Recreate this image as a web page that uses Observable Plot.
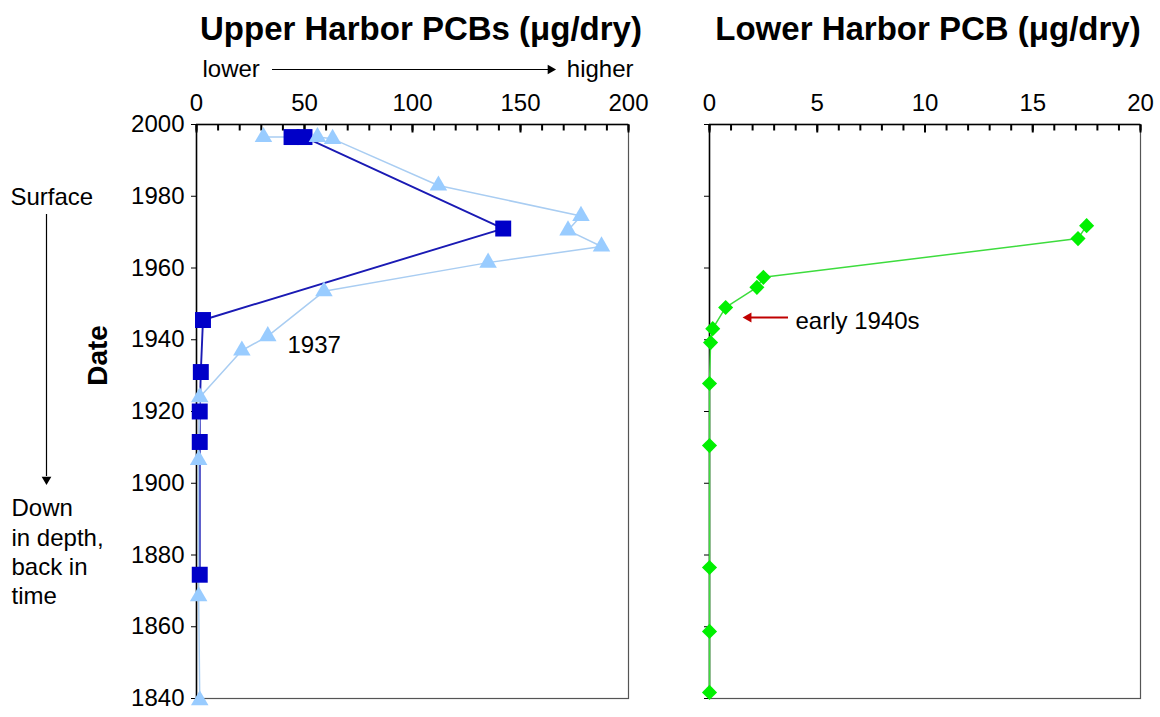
<!DOCTYPE html>
<html><head><meta charset="utf-8">
<script src="https://cdn.jsdelivr.net/npm/d3@7"></script>
<script src="https://cdn.jsdelivr.net/npm/@observablehq/plot@0.6"></script>
<style>
body{margin:0;background:#fff;font-family:"Liberation Sans",Arial,sans-serif;}
#wrap{position:relative;width:1160px;height:717px;overflow:hidden;background:#fff;}
.title{position:absolute;top:12px;font-weight:bold;font-size:33px;line-height:33px;text-align:center;white-space:nowrap;color:#000;}
.panel{position:absolute;top:52px;}
</style></head><body>
<div id="wrap">
<div class="title" style="left:191px;width:460px">Upper Harbor PCBs (μg/dry)</div>
<div class="title" style="left:698px;width:460px">Lower Harbor PCB (μg/dry)</div>
<div class="panel" id="left" style="left:0"></div>
<div class="panel" id="right" style="left:660px"></div>
</div>
<script>
// ---- data ----
const upperYearsA = [1996.5, 1996.5, 1971, 1945.5, 1931, 1920, 1911.5, 1874.5];
const upperPcbA   = [44, 50, 142, 3, 2, 1.5, 1.5, 1.5];
const upperYearsB = [1996.5, 1996.5, 1996, 1983, 1974.5, 1970.5, 1966, 1961.5, 1953.5, 1941, 1937, 1924, 1906.5, 1868.5, 1839.5];
const upperPcbB   = [31, 56, 63, 112, 178, 172, 187.5, 135, 59, 33, 21, 1.5, 1, 1, 1.5];
const lowerYears  = [1971.8, 1968.2, 1957.4, 1954.6, 1949, 1943.1, 1939.2, 1927.8, 1910.5, 1876.5, 1858.7, 1841.7];
const lowerPcb    = [17.5, 17.1, 2.5, 2.2, 0.75, 0.15, 0.05, 0, 0, 0, 0, 0];
const yTicks = [1840, 1860, 1880, 1900, 1920, 1940, 1960, 1980, 2000];
const upperXTicks = [0, 50, 100, 150, 200];
const upperXMinor = [0, 10, 20, 30, 40, 50, 60, 70, 80, 90, 100, 110, 120, 130, 140, 150, 160, 170, 180, 190, 200];
const lowerXTicks = [0, 5, 10, 15, 20];
const lowerXMinor = [0, 1, 2, 3, 4, 5, 6, 7, 8, 9, 10, 11, 12, 13, 14, 15, 16, 17, 18, 19, 20];

const upperA = upperYearsA.map((yr, i) => ({yr, v: upperPcbA[i]}));
const upperB = upperYearsB.map((yr, i) => ({yr, v: upperPcbB[i]}));
const lower = lowerYears.map((yr, i) => ({yr, v: lowerPcb[i]}));

// page-pixel helpers for annotation placement
const xLp = d3.scaleLinear([0, 200], [196, 628]);
const xRp = d3.scaleLinear([0, 20], [709, 1140]);
const yP = d3.scaleLinear([1840, 2000], [698, 124]);
const c = v => () => v;

const style = {fontFamily: "Liberation Sans, Arial, sans-serif", fontSize: "24px", background: "white", color: "black"};

// inward ticks hanging below the top axis line
const innerTicks = (ticks, len) => Plot.link(ticks, {x1: d => d, x2: d => d, y1: c(2000), y2: c(yP.invert(124 + len)), stroke: "black", strokeWidth: 2});

const left = Plot.plot({
  width: 660, height: 665,
  marginLeft: 196, marginRight: 32, marginTop: 72, marginBottom: 19,
  style,
  x: {domain: [0, 200]},
  y: {domain: [1840, 2000]},
  marks: [
    Plot.frame({stroke: "#555", strokeWidth: 1.2}),
    Plot.ruleX([0], {stroke: "black", strokeWidth: 1.5}),
    Plot.ruleY([2000], {stroke: "black", strokeWidth: 1.5}),
    innerTicks(upperXMinor, 6),
    innerTicks(upperXTicks, 8),
    Plot.axisX({anchor: "top", ticks: upperXTicks, tickSize: 0, tickPadding: 14, label: null}),
    Plot.axisY({ticks: yTicks, tickSize: 5, tickPadding: 7, tickFormat: "d", label: null}),
    Plot.line(upperA, {x: "v", y: "yr", stroke: "#1a1ab4", strokeWidth: 1.9}),
    Plot.line(upperB, {x: "v", y: "yr", stroke: "#a9cdf2", strokeWidth: 1.5}),
    Plot.dot(upperA, {x: "v", y: "yr", symbol: "square", r: 9, fill: "#0000c8"}),
    Plot.dot(upperB, {x: "v", y: "yr", symbol: "triangle", r: 6.5, fill: "#99ccff"}),
    // annotations
    Plot.text(["1937"], {x: c(xLp.invert(287)), y: c(yP.invert(345)), textAnchor: "start"}),
    Plot.text(["Surface"], {x: c(xLp.invert(10)), y: c(yP.invert(197)), textAnchor: "start"}),
    Plot.text(["Down\nin depth,\nback in\ntime"], {x: c(xLp.invert(11)), y: c(yP.invert(495)), textAnchor: "start", lineAnchor: "top", lineHeight: 1.22}),
    Plot.ruleX([xLp.invert(46)], {y1: c(yP.invert(214)), y2: c(yP.invert(476)), stroke: "black", strokeWidth: 1.2}),
    Plot.dot([0], {x: c(xLp.invert(46)), y: c(yP.invert(479)), symbol: "triangle", r: 3.6, rotate: 180, fill: "black"}),
    Plot.text(["Date"], {x: c(xLp.invert(98)), y: c(yP.invert(355)), rotate: -90, fontSize: 28, fontWeight: "bold"}),
    Plot.text(["lower"], {x: c(xLp.invert(202)), y: c(yP.invert(69)), textAnchor: "start"}),
    Plot.text(["higher"], {x: c(xLp.invert(633)), y: c(yP.invert(69)), textAnchor: "end"}),
    Plot.ruleY([yP.invert(69)], {x1: c(xLp.invert(272)), x2: c(xLp.invert(548)), stroke: "black", strokeWidth: 1.2}),
    Plot.dot([0], {x: c(xLp.invert(550)), y: c(yP.invert(69)), symbol: "triangle", r: 3.6, rotate: 90, fill: "black"})
  ]
});
document.getElementById("left").append(left);

const right = Plot.plot({
  width: 500, height: 665,
  marginLeft: 49, marginRight: 20, marginTop: 72, marginBottom: 19,
  style,
  x: {domain: [0, 20]},
  y: {domain: [1840, 2000]},
  marks: [
    Plot.frame({stroke: "#555", strokeWidth: 1.2}),
    Plot.ruleX([0], {stroke: "black", strokeWidth: 1.5}),
    Plot.ruleY([2000], {stroke: "black", strokeWidth: 1.5}),
    innerTicks(lowerXMinor, 6),
    innerTicks(lowerXTicks, 8),
    Plot.axisX({anchor: "top", ticks: lowerXTicks, tickSize: 0, tickPadding: 14, label: null}),
    Plot.axisY({ticks: yTicks, tickSize: 5, fill: "none", label: null}),
    Plot.line(lower, {x: "v", y: "yr", stroke: "#3ddc3d", strokeWidth: 1.5}),
    Plot.dot(lower, {x: "v", y: "yr", symbol: "diamond2", r: 6.8, fill: "#00f000"}),
    Plot.ruleY([yP.invert(317)], {x1: c(xRp.invert(750)), x2: c(xRp.invert(788)), stroke: "#c00000", strokeWidth: 2}),
    Plot.dot([0], {x: c(xRp.invert(748)), y: c(yP.invert(317)), symbol: "triangle", r: 3.8, rotate: -90, fill: "#c00000"}),
    Plot.text(["early 1940s"], {x: c(xRp.invert(795)), y: c(yP.invert(321)), textAnchor: "start"})
  ]
});
document.getElementById("right").append(right);
</script>
</body></html>
